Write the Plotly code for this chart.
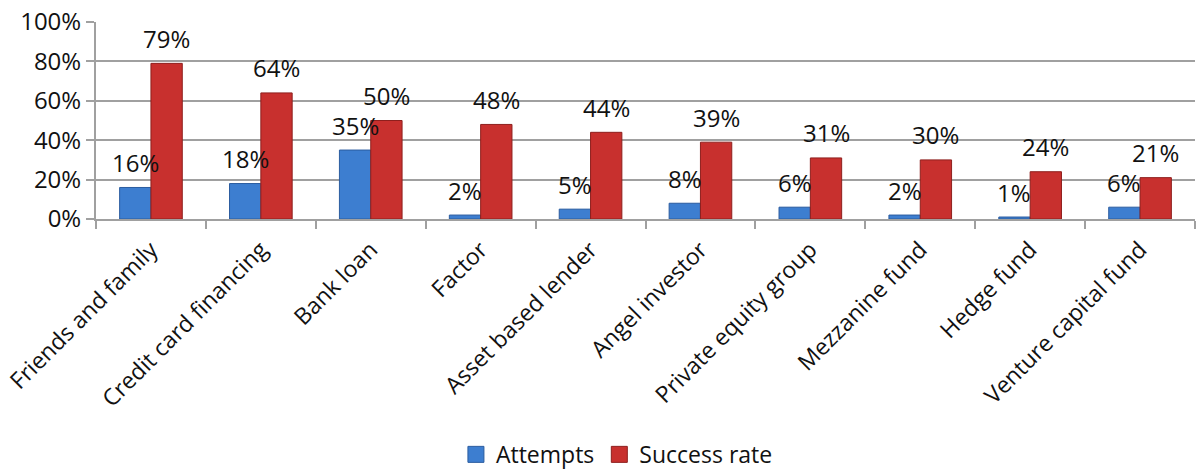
import plotly.graph_objects as go

categories = [
    "Friends and family", "Credit card financing", "Bank loan", "Factor",
    "Asset based lender", "Angel investor", "Private equity group",
    "Mezzanine fund", "Hedge fund", "Venture capital fund",
]
attempts = [16, 18, 35, 2, 5, 8, 6, 2, 1, 6]
success_rate = [79, 64, 50, 48, 44, 39, 31, 30, 24, 21]
y_ticks = [0, 20, 40, 60, 80, 100]
y_tick_labels = ["0%", "20%", "40%", "60%", "80%", "100%"]

FONT = "Open Sans"
GRID = "#a0a0a0"
BLUE = "#3d7ed0"
BLUE_EDGE = "#2b5c9f"
RED = "#c8302e"
RED_EDGE = "#8e1f1d"

fig = go.Figure()
fig.add_trace(go.Bar(
    name="Attempts", x=categories, y=attempts, showlegend=False,
    marker=dict(color=BLUE, line=dict(color=BLUE_EDGE, width=1)),
))
fig.add_trace(go.Bar(
    name="Success rate", x=categories, y=success_rate, showlegend=False,
    marker=dict(color=RED, line=dict(color=RED_EDGE, width=1)),
))

# Legend entries drawn as square swatches
for name, col, edge in (("Attempts", BLUE, BLUE_EDGE), ("Success rate", RED, RED_EDGE)):
    fig.add_trace(go.Scatter(
        name=name, x=[None], y=[None], mode="markers",
        marker=dict(symbol="square", size=16, color=col, line=dict(color=edge, width=1)),
    ))

# Value labels sitting above each bar
bar_offset = 15.7
for cat, a, s in zip(categories, attempts, success_rate):
    for val, dx in ((a, -bar_offset), (s, bar_offset)):
        fig.add_annotation(
            x=cat, y=val, xref="x", yref="y", text=f"{val}%",
            showarrow=False, xshift=dx, yshift=25, yanchor="middle",
            font=dict(family=FONT, size=24, color="#111111"),
        )

fig.update_layout(
    width=1198, height=473,
    margin=dict(l=96, r=3, t=22, b=254, autoexpand=False),
    paper_bgcolor="white", plot_bgcolor="white",
    barmode="group", bargap=0.43, bargroupgap=0,
    font=dict(family=FONT, size=23, color="#111111"),
    showlegend=True,
    legend=dict(
        orientation="h", x=0.474, xanchor="center", y=-1.195, yanchor="middle",
        font=dict(family=FONT, size=23, color="#111111"),
        itemwidth=30, traceorder="normal",
    ),
)
fig.update_xaxes(
    type="category", tickangle=-45, tickson="boundaries",
    ticks="outside", ticklen=8, tickcolor=GRID, tickwidth=1.5,
    showline=True, linecolor=GRID, linewidth=2,
    showgrid=False, tickfont=dict(family=FONT, size=23),
    ticklabelstandoff=6,
)
fig.update_yaxes(
    range=[0, 100], tickvals=y_ticks, ticktext=y_tick_labels,
    ticks="outside", ticklen=8, tickcolor=GRID, tickwidth=1.5,
    showline=True, linecolor=GRID, linewidth=2,
    showgrid=True, gridcolor=GRID, gridwidth=2,
    zeroline=False, tickfont=dict(family=FONT, size=24),
)

fig.write_html("out.html")
